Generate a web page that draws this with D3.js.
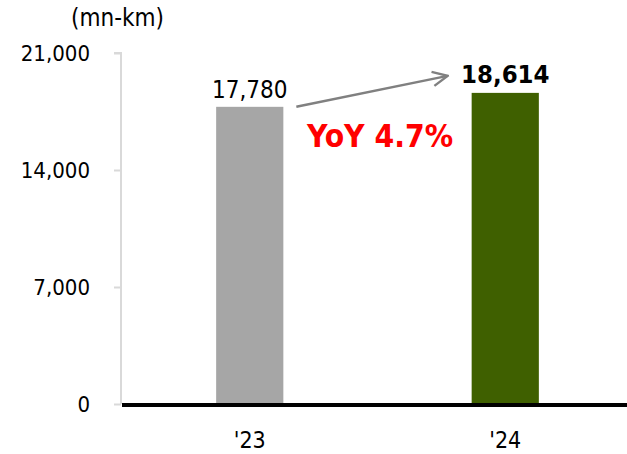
<!DOCTYPE html>
<html>
<head>
<meta charset="utf-8">
<script src="https://cdn.jsdelivr.net/npm/d3@7"></script>
<style>
  html, body { margin: 0; padding: 0; background: #fff; }
  svg { display: block; }
  text { font-family: "DejaVu Sans Condensed", "DejaVu Sans", sans-serif; }
</style>
</head>
<body>
<svg id="chart" width="627" height="454"></svg>
<script>
// Distance travelled, millions of km
const years = ["'23", "'24"];
const distance = [17780, 18614];
const barColors = ["#a6a6a6", "#3f6000"];
const yTicks = [0, 7000, 14000, 21000];
const unitLabel = "(mn-km)";
const growthLabel = "YoY 4.7%";

const svg = d3.select("#chart");
const x0 = 122, yBase = 404, yTop = 53;

const x = d3.scaleBand()
  .domain(years)
  .range([x0, 633])
  .paddingInner(0.737)
  .paddingOuter(0.3685);

const y = d3.scaleLinear()
  .domain([0, 21000])
  .range([yBase, yTop]);

// Y axis with light grey line and ticks
const yAxis = svg.append("g")
  .attr("transform", `translate(${x0 - 1},0)`)
  .call(d3.axisLeft(y).tickValues(yTicks).tickSize(7).tickPadding(24)
    .tickFormat(d3.format(",")));
yAxis.attr("font-family", null).attr("font-size", null);
yAxis.select(".domain").attr("stroke", "#d9d9d9").attr("stroke-width", 2)
  .attr("d", `M-7,${yTop}H0V${yBase}`);
yAxis.selectAll(".tick line").attr("stroke", "#d9d9d9").attr("stroke-width", 2);
yAxis.selectAll(".tick text")
  .attr("fill", "#000")
  .attr("dy", "0.34em")
  .style("font-size", "22px");

// Unit label
svg.append("text")
  .attr("x", 71).attr("y", 26)
  .style("font-size", "24px")
  .text(unitLabel);

// Bars
svg.selectAll("rect.bar")
  .data(distance)
  .join("rect")
  .attr("class", "bar")
  .attr("x", (d, i) => x(years[i]))
  .attr("width", x.bandwidth())
  .attr("y", d => y(d))
  .attr("height", d => y(0) - y(d))
  .attr("fill", (d, i) => barColors[i]);

// Baseline
svg.append("line")
  .attr("x1", x0).attr("x2", 627)
  .attr("y1", y(0) + 1).attr("y2", y(0) + 1)
  .attr("stroke", "#000").attr("stroke-width", 4);

// Category labels
svg.selectAll("text.cat")
  .data(years)
  .join("text")
  .attr("class", "cat")
  .attr("x", d => x(d) + x.bandwidth() / 2)
  .attr("y", 448)
  .attr("text-anchor", "middle")
  .style("font-size", "23px")
  .text(d => d);

// Value labels
svg.selectAll("text.val")
  .data(distance)
  .join("text")
  .attr("class", "val")
  .attr("x", (d, i) => x(years[i]) + x.bandwidth() / 2)
  .attr("y", (d, i) => y(d) - (i === 1 ? 10 : 9))
  .attr("text-anchor", "middle")
  .style("font-size", (d, i) => i === 1 ? "25.5px" : "24px")
  .style("font-weight", (d, i) => i === 1 ? "bold" : "normal")
  .text(d => d3.format(",")(d));

// Growth arrow between the two bars
svg.append("defs").append("marker")
  .attr("id", "arrowhead")
  .attr("viewBox", "0 0 10 10")
  .attr("refX", 9).attr("refY", 5)
  .attr("markerWidth", 7.5).attr("markerHeight", 7.5)
  .attr("markerUnits", "strokeWidth")
  .attr("orient", "auto")
  .append("path")
  .attr("d", "M1,1.2 L9,5 L1,8.8")
  .attr("fill", "none")
  .attr("stroke", "#808080")
  .attr("stroke-width", 1.3);

const ax1 = x(years[0]) + x.bandwidth() + 13;
const ax2 = x(years[1]) - 24;
svg.append("line")
  .attr("x1", ax1).attr("y1", y(distance[0]))
  .attr("x2", ax2).attr("y2", y(distance[1]) - 17)
  .attr("stroke", "#808080")
  .attr("stroke-width", 2.5)
  .attr("marker-end", "url(#arrowhead)");

// Growth label
svg.append("text")
  .attr("x", 307).attr("y", 147)
  .attr("fill", "#ff0000")
  .style("font-size", "31.5px")
  .style("font-weight", "bold")
  .text(growthLabel);
</script>
</body>
</html>
